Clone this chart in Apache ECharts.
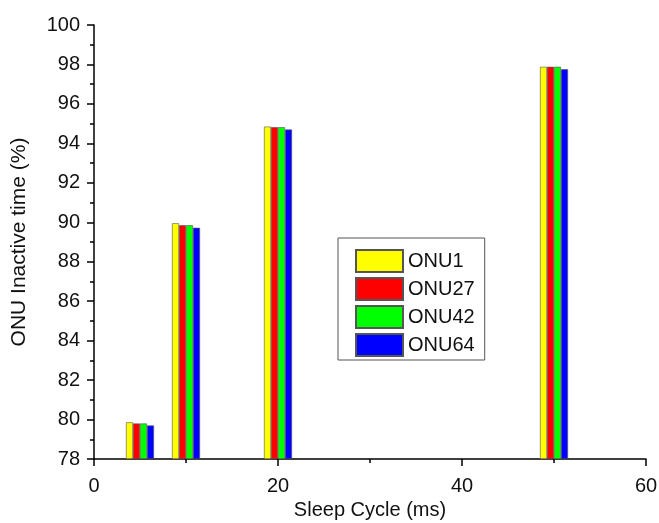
<!DOCTYPE html>
<html>
<head>
<meta charset="utf-8">
<script src="https://cdn.jsdelivr.net/npm/echarts@6/dist/echarts.min.js"></script>
<style>
html,body{margin:0;padding:0;background:#fff;}
#c{width:659px;height:523px;}
</style>
</head>
<body>
<div id="c"></div>
<script>
const sleepCycles = [5, 10, 20, 50];
const seriesNames = ['ONU1', 'ONU27', 'ONU42', 'ONU64'];
const onu1  = [79.86, 89.95, 94.85, 97.88];
const onu27 = [79.80, 89.85, 94.82, 97.88];
const onu42 = [79.80, 89.85, 94.82, 97.88];
const onu64 = [79.70, 89.72, 94.70, 97.76];
const seriesColors = ['#ffff00', '#ff0000', '#00ff00', '#0000ff'];
const yTicks = [78, 80, 82, 84, 86, 88, 90, 92, 94, 96, 98, 100];
const xTicks = [0, 20, 40, 60];

const values = [onu1, onu27, onu42, onu64];
const font = 'Liberation Sans, Arial, sans-serif';

const chart = echarts.init(document.getElementById('c'));
chart.setOption({
  animation: false,
  backgroundColor: '#fff',
  grid: { left: 94, right: 13, top: 25, bottom: 64, containLabel: false, outerBoundsMode: 'none' },
  legend: {
    orient: 'vertical',
    left: 338, top: 238,
    padding: [11, 10, 3, 17],
    itemWidth: 47, itemHeight: 22, itemGap: 4,
    borderColor: '#555', borderWidth: 1,
    icon: 'rect',
    textStyle: { fontSize: 20, fontFamily: font, color: '#111' },
    data: seriesNames
  },
  xAxis: {
    type: 'value',
    min: xTicks[0], max: xTicks[xTicks.length - 1], interval: 20,
    name: 'Sleep Cycle (ms)',
    nameLocation: 'middle', nameGap: 38,
    nameTextStyle: { fontSize: 20, fontFamily: font, color: '#111' },
    axisLine: { show: true, lineStyle: { color: '#000', width: 1.5 } },
    axisTick: { show: true, inside: false, length: 7, lineStyle: { color: '#000', width: 1.5 } },
    minorTick: { show: true, splitNumber: 2, length: 4, lineStyle: { color: '#000', width: 1.5 } },
    axisLabel: { fontSize: 20, fontFamily: font, color: '#111', margin: 17 },
    splitLine: { show: false }
  },
  yAxis: {
    type: 'value',
    min: yTicks[0], max: yTicks[yTicks.length - 1], interval: 2,
    startValue: yTicks[0],
    name: 'ONU Inactive time (%)',
    nameLocation: 'middle', nameGap: 64,
    nameTextStyle: { fontSize: 21, fontFamily: font, color: '#111' },
    axisLine: { show: true, lineStyle: { color: '#000', width: 1.5 } },
    axisTick: { show: true, inside: false, length: 7, lineStyle: { color: '#000', width: 1.5 } },
    minorTick: { show: true, splitNumber: 2, length: 4, lineStyle: { color: '#000', width: 1.5 } },
    axisLabel: { fontSize: 20, fontFamily: font, color: '#111', margin: 14 },
    splitLine: { show: false }
  },
  series: seriesNames.map((name, i) => ({
    name: name,
    type: 'bar',
    barWidth: 7,
    barGap: '0%',
    itemStyle: { color: seriesColors[i], borderColor: '#555', borderWidth: 0.6 },
    data: sleepCycles.map((x, j) => [x, values[i][j]])
  }))
});
</script>
</body>
</html>
